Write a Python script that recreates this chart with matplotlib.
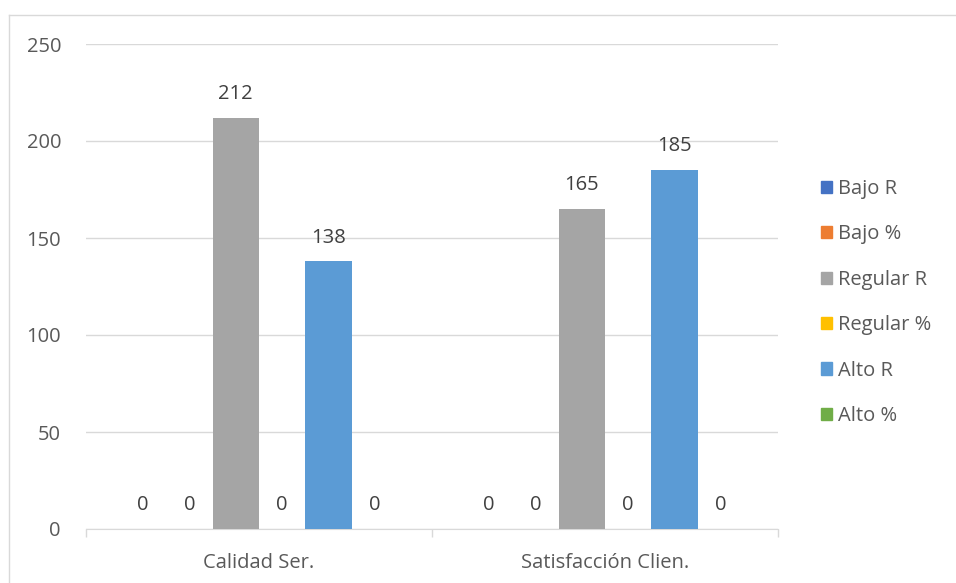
import matplotlib
matplotlib.use("Agg")
import matplotlib.pyplot as plt
import numpy as np
from matplotlib.lines import Line2D

categories = ["Calidad Ser.", "Satisfacción Clien."]
series_names = ["Bajo R", "Bajo %", "Regular R", "Regular %", "Alto R", "Alto %"]
series_values = {
    "Bajo R": [0, 0],
    "Bajo %": [0, 0],
    "Regular R": [212, 165],
    "Regular %": [0, 0],
    "Alto R": [138, 185],
    "Alto %": [0, 0],
}
colors = ["#4472C4", "#ED7D31", "#A5A5A5", "#FFC000", "#5B9BD5", "#70AD47"]
yticks = [0, 50, 100, 150, 200, 250]

plt.rcParams['font.family'] = ['Open Sans', 'DejaVu Sans']
txt = "#595959"
fs = 14.5

fig = plt.figure(figsize=(9.56, 5.83), dpi=100)
ax = fig.add_axes([86/956, 1-529/583, (778-86)/956, (529-44)/583])

n = len(series_names)
gap = 1.45
bw = 1.0 / (n + gap)
x = np.arange(len(categories))
for i, name in enumerate(series_names):
    pos = x - 0.5 + (gap / 2) * bw + (i + 0.5) * bw
    ax.bar(pos, series_values[name], width=bw, color=colors[i], label=name, zorder=3)
    for p, v in zip(pos, series_values[name]):
        ax.annotate(f"{v}", (p, v), xytext=(0, 17), textcoords="offset points",
                    ha="center", va="center", fontsize=fs, color="#404040")

ax.set_xlim(-0.5, len(categories) - 0.5)
ax.set_ylim(0, 250)
ax.set_yticks(yticks)
ax.set_yticklabels([str(t) for t in yticks], fontsize=fs, color=txt)
ax.grid(axis="y", color="#d9d9d9", linewidth=1, zorder=0)
ax.set_axisbelow(True)
for s in ["top", "right", "left"]:
    ax.spines[s].set_visible(False)
ax.spines["bottom"].set_color("#d9d9d9")
ax.tick_params(axis="y", length=0, pad=18)
ax.set_xticks(x)
ax.set_xticklabels(categories, fontsize=fs, color=txt)
ax.tick_params(axis="x", length=0, pad=17)
ax.set_xticks(np.arange(len(categories) + 1) - 0.5, minor=True)
ax.tick_params(axis="x", which="minor", length=6, color="#d9d9d9", width=1)

handles = [plt.Rectangle((0, 0), 1, 1, color=c) for c in colors]
leg = fig.legend(handles, series_names, loc="center left", bbox_to_anchor=(821/956, 1-302.5/583),
                 frameon=False, fontsize=fs, labelspacing=1.26, handlelength=0.55,
                 handleheight=0.55, handletextpad=0.3, borderpad=0, borderaxespad=0)
for t in leg.get_texts():
    t.set_color(txt)

fig.add_artist(Line2D([8.5/956, 8.5/956], [0, 1-14.5/583], color="#d9d9d9", linewidth=1, transform=fig.transFigure))
fig.add_artist(Line2D([8.5/956, 1], [1-14.5/583, 1-14.5/583], color="#d9d9d9", linewidth=1, transform=fig.transFigure))

fig.savefig("out.png", dpi=100)
